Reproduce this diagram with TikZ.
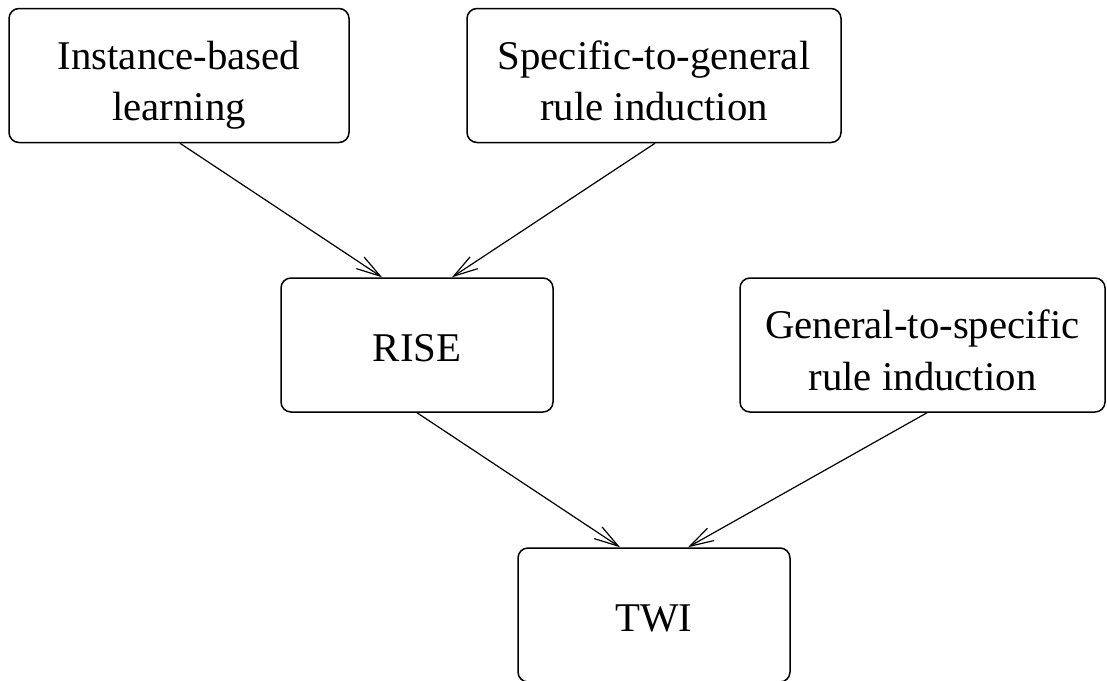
\documentclass[tikz,border=0pt]{standalone}
\usepackage{fontspec}
\setmainfont{Liberation Serif}
\usetikzlibrary{arrows.meta}
\newcommand{\twolines}[2]{\rule{0pt}{19.25pt}#1\\\raisebox{0pt}[\height][0pt]{#2}}
\begin{document}
\begin{tikzpicture}[x=0.5pt,y=-0.5pt,
  box/.style={draw, line width=0.75pt, rounded corners=5pt, align=center,
    minimum height=67pt, inner sep=0pt,
    font=\fontsize{20.4pt}{25.75pt}\selectfont},
  onebox/.style={box, text height=16.6pt, text depth=0pt},
  arr/.style={line width=0.6pt, -{Straight Barb[length=12pt,width=7pt,line width=0.6pt]}}]
\useasboundingbox (0,0) rectangle (1107,680);
\node[box, minimum width=170pt] (A) at (179,75.5) {\twolines{Instance-based}{learning}};
\node[box, minimum width=187pt] (B) at (654,75.5) {\twolines{Specific-to-general}{rule induction}};
\node[onebox, minimum width=136pt] (R) at (417,345) {RISE};
\node[box, minimum width=182.5pt] (G) at (922.5,345) {\twolines{General-to-specific}{rule induction}};
\node[onebox, minimum width=136pt] (T) at (654,615) {TWI};
\draw[arr] ([xshift=0.5pt]A.south) -- ([xshift=-17.5pt]R.north);
\draw[arr] ([xshift=0.5pt]B.south) -- ([xshift=17.5pt]R.north);
\draw[arr] (R.south) -- ([xshift=-17pt]T.north);
\draw[arr] ([xshift=2.25pt]G.south) -- ([xshift=17pt]T.north);
\end{tikzpicture}
\end{document}
